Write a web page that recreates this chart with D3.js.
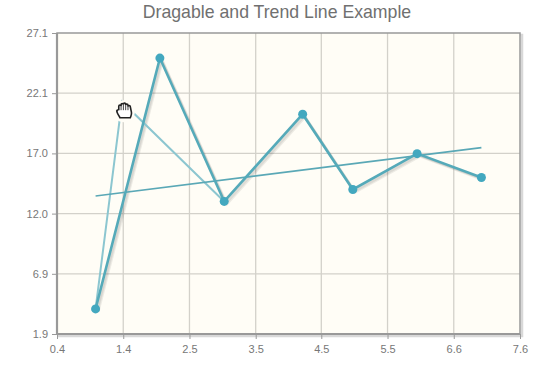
<!DOCTYPE html>
<html lang="en">
<head>
<meta charset="UTF-8">
<title>Dragable and Trend Line Example</title>
<script src="https://d3js.org/d3.v7.min.js"></script>
<style>
	html, body { margin: 0; background: #fff; }
	svg { display: block; }
	text { font-family: "Liberation Sans", Arial, sans-serif; }
	.tick text { font-size: 11px; fill: #777; }
	.tick line { stroke: #999; }
	.domain { display: none; }
</style>
</head>
<body>
<div id="chart"></div>
<script>
const xValues = [1, 2, 3, 4.22, 5, 6, 7];
const yValues = [4, 25, 13, 20.3, 14, 17, 15];

// where point 2 sits while it is being dragged
const dragX = 1.41;
const dragY = 21.35;

const trendX = [1, 7];
const trendY = [13.45, 17.5];

const xTicks = [0.4, 1.43, 2.46, 3.49, 4.51, 5.54, 6.57, 7.6];
const yTicks = [1.9, 6.94, 11.98, 17.02, 22.06, 27.1];

const margin = {top: 33, right: 40, bottom: 39, left: 57},
	  width = 560 - margin.left - margin.right,
	  height = 373 - margin.top - margin.bottom;

const svg = d3.select("#chart")
	.append("svg")
	.attr("width", 560)
	.attr("height", 373);

const g = svg.append("g")
	.attr("transform", `translate(${margin.left},${margin.top})`);

const x = d3.scaleLinear().domain([0.4, 7.6]).range([0, width]);
const y = d3.scaleLinear().domain([1.9, 27.1]).range([height, 0]);

// title
svg.append("text")
	.attr("x", 277)
	.attr("y", 18)
	.attr("text-anchor", "middle")
	.style("font-size", "17.7px")
	.style("fill", "#707070")
	.text("Dragable and Trend Line Example");

// frame shadow
g.append("rect")
	.attr("x", 2)
	.attr("y", 2)
	.attr("width", width)
	.attr("height", height)
	.attr("fill", "none")
	.attr("stroke", "#d8d8d8")
	.attr("stroke-width", 2.5);

// plot background
g.append("rect")
	.attr("width", width)
	.attr("height", height)
	.attr("fill", "#fffdf6");

// grid lines
g.append("g")
	.selectAll("line")
	.data(xTicks.slice(1, -1))
	.join("line")
	.attr("x1", d => x(d))
	.attr("x2", d => x(d))
	.attr("y1", 0)
	.attr("y2", height)
	.attr("stroke", "#d3d1ca")
	.attr("stroke-width", 1.3);

g.append("g")
	.selectAll("line")
	.data(yTicks.slice(1, -1))
	.join("line")
	.attr("x1", 0)
	.attr("x2", width)
	.attr("y1", d => y(d))
	.attr("y2", d => y(d))
	.attr("stroke", "#d3d1ca")
	.attr("stroke-width", 1.3);

// axes
g.append("g")
	.attr("transform", `translate(0,${height})`)
	.call(d3.axisBottom(x).tickValues(xTicks).tickFormat(d3.format(".1f")).tickSize(5).tickPadding(6));

g.append("g")
	.call(d3.axisLeft(y).tickValues(yTicks).tickFormat(d3.format(".1f")).tickSize(5).tickPadding(4));

// frame
g.append("rect")
	.attr("width", width)
	.attr("height", height)
	.attr("fill", "none")
	.attr("stroke", "#999")
	.attr("stroke-width", 1.5);

g.append("path")
	.attr("d", d3.line()([[0, 0], [0, height], [width, height]]))
	.attr("fill", "none")
	.attr("stroke", "#999")
	.attr("stroke-width", 2.2);

const line = d3.line()
	.x(d => x(d[0]))
	.y(d => y(d[1]));

const points = d3.zip(xValues, yValues);

// series shadow
[1, 2, 3].forEach(i => {
	g.append("path")
		.attr("d", line(points))
		.attr("transform", `translate(${i * 0.9},${i * 0.9})`)
		.attr("fill", "none")
		.attr("stroke", "#000")
		.attr("stroke-opacity", 0.07)
		.attr("stroke-width", 2.5);
});

// ghost line of the dragged point
const dragPoints = [points[0], [dragX, dragY], points[2]];

g.append("path")
	.attr("d", line(dragPoints))
	.attr("fill", "none")
	.attr("stroke", "#8cc6d0")
	.attr("stroke-width", 2);

// the cursor sits a little below and right of the dragged point
const cursor = `translate(${x(dragX) + 2},${y(dragY) + 9.5})`;

// pale halo around the cursor, hides the tip of the ghost line
g.append("circle")
	.attr("transform", cursor)
	.attr("r", 11)
	.attr("fill", "#fffdf6");

// trend line
g.append("path")
	.attr("d", line(d3.zip(trendX, trendY)))
	.attr("fill", "none")
	.attr("stroke", "#5aa8b6")
	.attr("stroke-width", 1.6);

// series
g.append("path")
	.attr("d", line(points))
	.attr("fill", "none")
	.attr("stroke", "#55aab9")
	.attr("stroke-width", 2.6);

g.selectAll("circle.point")
	.data(points)
	.join("circle")
	.attr("class", "point")
	.attr("cx", d => x(d[0]))
	.attr("cy", d => y(d[1]))
	.attr("r", 4.5)
	.attr("fill", "#43a8bf");

// hand cursor
const hand = "M-6 1 C-7 -1 -5 -2 -4.5 -1 L-4.5 -5 C-4.5 -6.5 -2.5 -6.5 -2.5 -5 L-2.5 -6.5 C-2.5 -8 -0.5 -8 -0.5 -6.5 L-0.5 -7 C-0.5 -8.5 1.5 -8.5 1.5 -7 L1.5 -6 C1.5 -7.5 3.5 -7.5 3.5 -6 L3.5 -4.5 C3.5 -6 5.5 -6 5.5 -4.5 L6.5 1 C7 4 6 5 5.5 6.5 L-3.5 6.5 C-4 5 -5 4 -6 1 Z";

g.append("path")
	.attr("d", hand)
	.attr("transform", `${cursor} scale(1.15,1)`)
	.attr("fill", "#fff")
	.attr("stroke", "#222")
	.attr("stroke-width", 1.4);

g.append("path")
	.attr("d", "M-2.5 -5 L-2.5 -1 M-0.5 -6.5 L-0.5 -1 M1.5 -6 L1.5 -1 M3.5 -4.5 L3.5 -1")
	.attr("transform", `${cursor} scale(1.15,1)`)
	.attr("fill", "none")
	.attr("stroke", "#222")
	.attr("stroke-width", 0.8);
</script>
</body>
</html>
